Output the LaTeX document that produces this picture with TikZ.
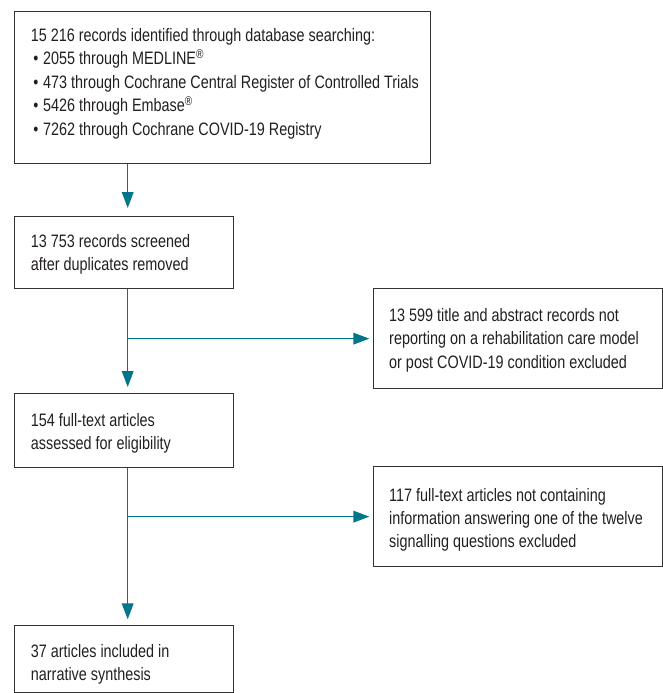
\documentclass[tikz,border=0pt]{standalone}
\usepackage{fontspec}
\setmainfont[FakeStretch=0.80]{Liberation Sans}
\usetikzlibrary{arrows.meta}
\definecolor{tealline}{RGB}{0,118,138}
\definecolor{boxline}{RGB}{50,50,50}
\definecolor{txtc}{RGB}{35,31,32}
\newcommand{\mybul}{\makebox[12.3pt][l]{\hspace{2.5pt}•}}
\newcommand{\myreg}{\textsuperscript{®}}
\newcommand{\mytightspace}{\spaceskip=4pt plus 1pt minus 1pt\relax}
\begin{document}
\begin{tikzpicture}[x=1pt,y=-1pt,
  boxnode/.style={draw=boxline,line width=1.3pt,rectangle,inner sep=0pt,anchor=north west},
  txtnode/.style={inner sep=0pt,anchor=base west,align=left,text=txtc,font=\fontsize{18}{23.4}\selectfont,execute at begin node=\mytightspace},
  conn/.style={draw=tealline,line width=1.4pt,-{Triangle[length=16pt,width=11.7pt]}}]
\useasboundingbox (0,0) rectangle (663,693);
% boxes
\node[boxnode,minimum width=416pt,minimum height=152pt] (b1) at (14,11) {};
\node[boxnode,minimum width=219pt,minimum height=72pt] (b2) at (14,216) {};
\node[boxnode,minimum width=289pt,minimum height=100pt] (b3) at (373,288) {};
\node[boxnode,minimum width=219pt,minimum height=74pt] (b4) at (14,393) {};
\node[boxnode,minimum width=289pt,minimum height=100pt] (b5) at (373,466) {};
\node[boxnode,minimum width=219pt,minimum height=66.5pt] (b6) at (14,625) {};
% texts
\node[txtnode,text width=410pt] (t1) at (30.7,41.5) {15 216 records identified through database searching:\\
\mybul 2055 through MEDLINE\myreg\\
\mybul 473 through Cochrane Central Register of Controlled Trials\\
\mybul 5426 through Embase\myreg\\
\mybul 7262 through Cochrane COVID-19 Registry};
\node[txtnode,text width=210pt] (t2) at (30.7,247) {13 753 records screened\\after duplicates removed};
\node[txtnode,text width=270pt] (t3) at (389,321.5) {13 599 title and abstract records not\\reporting on a rehabilitation care model\\or post COVID-19 condition excluded};
\node[txtnode,text width=210pt] (t4) at (30.7,426.5) {154 full-text articles\\assessed for eligibility};
\node[txtnode,text width=270pt] (t5) at (389,501) {117 full-text articles not containing\\information answering one of the twelve\\signalling questions excluded};
\node[txtnode,text width=210pt] (t6) at (30.7,657.5) {37 articles included in\\narrative synthesis};
% connectors
\coordinate (x0) at (127.7,0);
\draw[conn,shorten >=8pt] (b1.south -| x0) -- (b2.north -| x0);
\draw[conn,shorten >=6pt] (b2.south -| x0) -- (b4.north -| x0);
\draw[conn,shorten >=3.7pt] (x0 |- b3.west) -- (b3.west);
\draw[conn,shorten >=5.7pt] (b4.south -| x0) -- (b6.north -| x0);
\draw[conn,shorten >=3.7pt] (x0 |- b5.west) -- (b5.west);
\end{tikzpicture}
\end{document}
